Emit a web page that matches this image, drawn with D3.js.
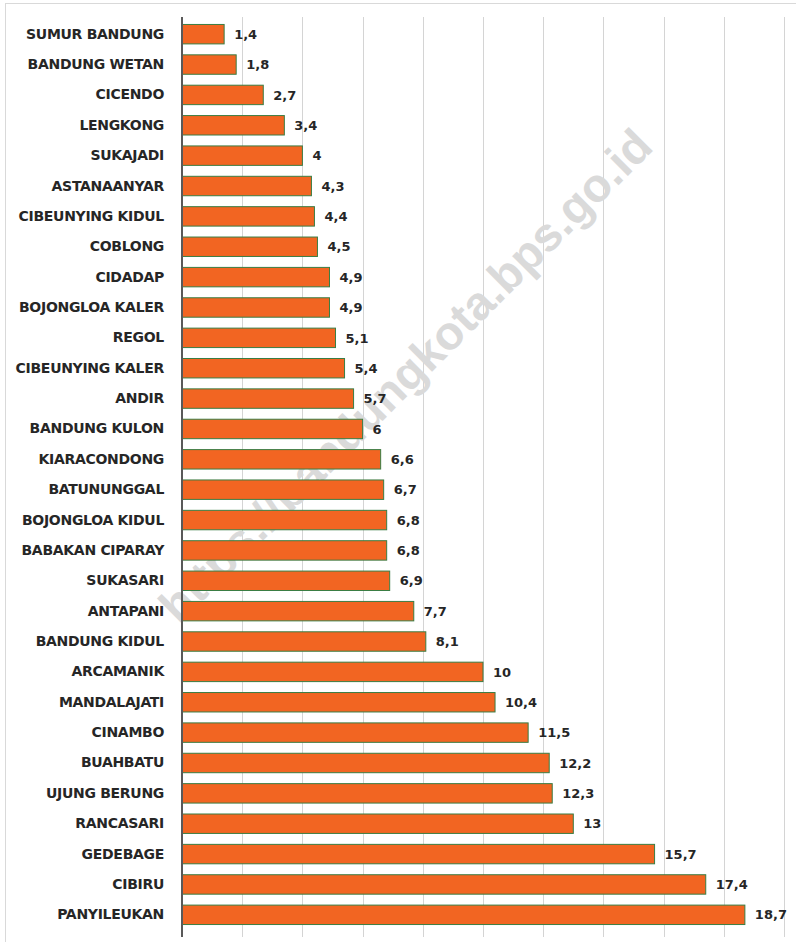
<!DOCTYPE html>
<html>
<head>
<meta charset="utf-8">
<script src="https://cdn.jsdelivr.net/npm/d3@7"></script>
<style>
  body { margin: 0; background: #fff; }
</style>
</head>
<body>
<script>
var kecamatan = ["SUMUR BANDUNG", "BANDUNG WETAN", "CICENDO", "LENGKONG", "SUKAJADI",
  "ASTANAANYAR", "CIBEUNYING KIDUL", "COBLONG", "CIDADAP", "BOJONGLOA KALER", "REGOL",
  "CIBEUNYING KALER", "ANDIR", "BANDUNG KULON", "KIARACONDONG", "BATUNUNGGAL",
  "BOJONGLOA KIDUL", "BABAKAN CIPARAY", "SUKASARI", "ANTAPANI", "BANDUNG KIDUL",
  "ARCAMANIK", "MANDALAJATI", "CINAMBO", "BUAHBATU", "UJUNG BERUNG", "RANCASARI",
  "GEDEBAGE", "CIBIRU", "PANYILEUKAN"];
var nilai = [1.4, 1.8, 2.7, 3.4, 4, 4.3, 4.4, 4.5, 4.9, 4.9, 5.1, 5.4, 5.7, 6, 6.6, 6.7,
  6.8, 6.8, 6.9, 7.7, 8.1, 10, 10.4, 11.5, 12.2, 12.3, 13, 15.7, 17.4, 18.7];
var gridTicks = [0, 2, 4, 6, 8, 10, 12, 14, 16, 18, 20];
var watermark = "https://bandungkota.bps.go.id";

var width = 796;
var height = 942;

var svg = d3.select("body").append("svg")
  .attr("width", width).attr("height", height);

// outer frame (only top and left visible)
svg.append("line").attr("x1", 5).attr("x2", width).attr("y1", 3.5).attr("y2", 3.5)
  .style("stroke", "#d9d9d9");
svg.append("line").attr("x1", 5.5).attr("x2", 5.5).attr("y1", 3).attr("y2", height)
  .style("stroke", "#d9d9d9");

var x = d3.scaleLinear().domain([0, 20]).range([182, 784]);
var y = d3.scaleBand().domain(kecamatan).range([19, 930]).paddingInner(0.36).paddingOuter(0.18);

var gridTop = 17, gridBottom = 937;

// vertical gridlines
svg.selectAll("line.grid").data(gridTicks.slice(1)).enter().append("line")
  .attr("class", "grid")
  .attr("x1", function (d) { return Math.round(x(d)) + 0.5; })
  .attr("x2", function (d) { return Math.round(x(d)) + 0.5; })
  .attr("y1", gridTop).attr("y2", gridBottom)
  .style("stroke", "#d4d4d4").style("stroke-width", 1);

// watermark: over the grid, behind the bars
svg.append("text")
  .attr("transform", "translate(408,378) rotate(-45)")
  .attr("text-anchor", "middle")
  .attr("dominant-baseline", "middle")
  .style("font-family", "'Liberation Sans', Arial, sans-serif")
  .style("font-weight", "bold")
  .style("font-size", "47px")
  .style("fill", "#dadada")
  .text(watermark);

// bars
svg.selectAll("rect.bar").data(nilai).enter().append("rect")
  .attr("class", "bar")
  .attr("x", x(0))
  .attr("y", function (d, i) { return y(kecamatan[i]); })
  .attr("width", function (d) { return x(d) - x(0); })
  .attr("height", y.bandwidth())
  .style("fill", "#f26522")
  .style("stroke", "#3a7d44")
  .style("stroke-width", 1);

// value labels
svg.selectAll("text.val").data(nilai).enter().append("text")
  .attr("class", "val")
  .attr("x", function (d) { return x(d) + 10; })
  .attr("y", function (d, i) { return y(kecamatan[i]) + y.bandwidth() / 2; })
  .attr("dy", "0.36em")
  .style("font-family", "'DejaVu Sans', Verdana, sans-serif")
  .style("font-weight", "bold")
  .style("font-size", "13px")
  .style("fill", "#262626")
  .text(function (d) { return String(d).replace(".", ","); });

// category axis
var yAxis = d3.axisLeft(y).tickSize(0).tickPadding(18);
var g = svg.append("g").attr("transform", "translate(" + x(0) + ",0)").call(yAxis);
g.select(".domain").remove();
g.selectAll("text")
  .style("font-family", "'DejaVu Sans', Verdana, sans-serif")
  .style("font-weight", "bold")
  .style("font-size", "14px")
  .style("letter-spacing", "-0.3px")
  .style("fill", "#262626");

svg.append("line").attr("x1", x(0)).attr("x2", x(0)).attr("y1", gridTop).attr("y2", gridBottom)
  .style("stroke", "#595959").style("stroke-width", 2);
</script>
</body>
</html>
